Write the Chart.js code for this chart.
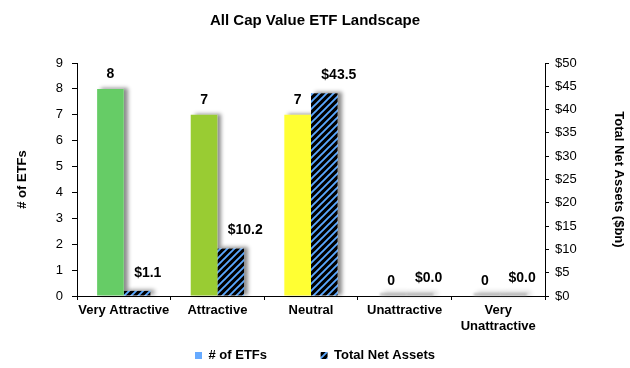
<!DOCTYPE html>
<html>
<head>
<meta charset="utf-8">
<title>All Cap Value ETF Landscape</title>
<script src="https://cdn.jsdelivr.net/npm/chart.js@4/dist/chart.umd.min.js"></script>
<style>
  html, body { margin: 0; padding: 0; background: #fff; }
  #wrap { width: 630px; height: 368px; }
</style>
</head>
<body>
<div id="wrap"><canvas id="chart" width="630" height="368"></canvas></div>
<script>
const categories = ['Very Attractive', 'Attractive', 'Neutral', 'Unattractive', ['Very', 'Unattractive']];
const etfCounts = [8, 7, 7, 0, 0];
const netAssets = [1.1, 10.2, 43.5, 0, 0];
const countTicks = [0, 1, 2, 3, 4, 5, 6, 7, 8, 9];
const assetTicks = [0, 5, 10, 15, 20, 25, 30, 35, 40, 45, 50];
const ratingColors = ['#66cc66', '#99cc33', '#ffff33', '#66cc66', '#66cc66'];

const FONT = '"Liberation Sans", Arial, sans-serif';

function makeHatch(size) {
  const c = document.createElement('canvas');
  c.width = size;
  c.height = size;
  const g = c.getContext('2d');
  g.fillStyle = '#000';
  g.fillRect(0, 0, size, size);
  g.strokeStyle = '#5aa8ff';
  g.lineWidth = 1.9;
  g.beginPath();
  g.moveTo(-1, size + 1); g.lineTo(size + 1, -1);
  g.moveTo(-1, 1); g.lineTo(1, -1);
  g.moveTo(size - 1, size + 1); g.lineTo(size + 1, size - 1);
  g.stroke();
  return g.createPattern(c, 'repeat');
}

const hatch = makeHatch(7);

// grey drop shadow behind each bar, drawn before the bars themselves
const barShadows = {
  id: 'barShadows',
  beforeDatasetsDraw(chart) {
    const ctx = chart.ctx;
    ctx.save();
    chart.data.datasets.forEach((ds, i) => {
      chart.getDatasetMeta(i).data.forEach((bar) => {
        const left = bar.x - bar.width / 2;
        const h = bar.base - bar.y;
        if (h < 1) {
          ctx.fillStyle = 'rgba(150,150,150,0.55)';
          ctx.filter = 'blur(1px)';
          ctx.fillRect(left + 2, bar.base - 3, bar.width, 3);
          ctx.filter = 'none';
          return;
        }
        ctx.shadowColor = 'rgba(0,0,0,0.45)';
        ctx.shadowBlur = 4;
        ctx.shadowOffsetX = 4;
        ctx.shadowOffsetY = -1;
        ctx.fillStyle = '#fff';
        ctx.fillRect(left, bar.y, bar.width, h);
      });
    });
    ctx.restore();
  }
};

const valueLabels = {
  id: 'valueLabels',
  afterDatasetsDraw(chart) {
    const ctx = chart.ctx;
    ctx.save();
    ctx.font = 'bold 14px ' + FONT;
    ctx.fillStyle = '#000';
    ctx.textBaseline = 'bottom';
    chart.getDatasetMeta(0).data.forEach((bar, i) => {
      ctx.textAlign = 'center';
      ctx.fillText(String(etfCounts[i]), bar.x, bar.y - 8);
    });
    chart.getDatasetMeta(1).data.forEach((bar, i) => {
      ctx.textAlign = 'left';
      ctx.fillText('$' + netAssets[i].toFixed(1), bar.x - 3, bar.y - 11);
    });
    ctx.restore();
  }
};

new Chart(document.getElementById('chart'), {
  type: 'bar',
  data: {
    labels: categories,
    datasets: [
      {
        label: '# of ETFs',
        data: etfCounts,
        backgroundColor: ratingColors,
        yAxisID: 'y',
        barPercentage: 1,
        categoryPercentage: 0.57
      },
      {
        label: 'Total Net Assets',
        data: netAssets,
        backgroundColor: hatch,
        yAxisID: 'y1',
        barPercentage: 1,
        categoryPercentage: 0.57
      }
    ]
  },
  options: {
    responsive: false,
    animation: false,
    events: [],
    layout: { padding: { top: 0, bottom: -4, left: 0, right: 0 } },
    plugins: {
      title: {
        display: true,
        text: 'All Cap Value ETF Landscape',
        color: '#000',
        font: { family: FONT, size: 15, weight: 'bold' },
        padding: { top: 12, bottom: 33 }
      },
      legend: {
        position: 'bottom',
        labels: {
          color: '#000',
          font: { family: FONT, size: 13, weight: 'bold' },
          boxWidth: 7,
          boxHeight: 7,
          padding: 3,
          generateLabels() {
            return [
              { text: '# of ETFs' + '\u00a0'.repeat(14), fillStyle: '#66aaff', strokeStyle: '#66aaff', lineWidth: 0, datasetIndex: 0 },
              { text: 'Total Net Assets', fillStyle: makeHatch(7), strokeStyle: '#000', lineWidth: 0, datasetIndex: 1 }
            ];
          }
        }
      },
      tooltip: { enabled: false }
    },
    scales: {
      x: {
        afterFit(axis) { axis.height = 50; },
        grid: { offset: true, drawOnChartArea: false, drawTicks: true, tickLength: 4, color: '#000' },
        border: { color: '#000', width: 1 },
        ticks: {
          color: '#000',
          font: { family: FONT, size: 13, weight: 'bold' },
          padding: 3,
          maxRotation: 0,
          autoSkip: false
        }
      },
      y: {
        position: 'left',
        min: 0,
        max: 9,
        afterBuildTicks(axis) { axis.ticks = countTicks.map((v) => ({ value: v })); },
        afterFit(axis) { axis.width = 77; },
        grid: { drawOnChartArea: false, tickLength: 5, color: '#000' },
        border: { color: '#000', width: 1 },
        ticks: {
          color: '#000',
          font: { family: FONT, size: 13 },
          padding: 9
        },
        title: {
          display: true,
          text: '# of ETFs',
          color: '#000',
          font: { family: FONT, size: 13, weight: 'bold' },
          padding: { top: 15, bottom: 0 }
        }
      },
      y1: {
        position: 'right',
        min: 0,
        max: 50,
        afterBuildTicks(axis) { axis.ticks = assetTicks.map((v) => ({ value: v })); },
        afterFit(axis) { axis.width = 85; },
        grid: { drawOnChartArea: false, tickLength: 4, color: '#000' },
        border: { color: '#000', width: 1 },
        ticks: {
          color: '#000',
          font: { family: FONT, size: 13 },
          padding: 6,
          callback: (v) => '$' + v
        },
        title: {
          display: true,
          text: 'Total Net Assets ($bn)',
          color: '#000',
          font: { family: FONT, size: 13, weight: 'bold' },
          padding: { top: 4, bottom: 0 }
        }
      }
    }
  },
  plugins: [barShadows, valueLabels]
});
</script>
</body>
</html>
